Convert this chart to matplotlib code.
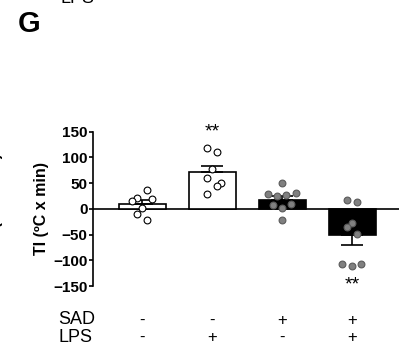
import numpy as np
import matplotlib
matplotlib.use("Agg")
import matplotlib.pyplot as plt
import matplotlib.transforms as mtransforms

plt.rcParams['font.family'] = ['Liberation Sans', 'DejaVu Sans']

# Gruppen: Kontrolle, LPS, SAD, SAD + LPS
sad_row = ['-', '-', '+', '+']
lps_row = ['-', '+', '-', '+']
means = [9.5, 71.5, 18, -51.6]
sems = [7.5, 12, 6.5, 18]
bar_colors = ['white', 'white', 'black', 'black']
dot_colors = ['white', 'white', '#808080', '#808080']
dot_edges = ['black', 'black', '#5a5a5a', '#5a5a5a']

# Einzelwerte pro Tier (TI in ºC x min)
vals_ctrl = [21, 37, 19, 15, 2, -21, -11]
vals_lps = [118, 110, 78, 60, 51, 44, 28]
vals_sad = [50, 28, 25, 26, 31, 8, 2, 10, -21]
vals_sad_lps = [18, 13.5, -27, -35, -48, -108, -112, -108]
points = [vals_ctrl, vals_lps, vals_sad, vals_sad_lps]

# seitliche Streuung der Punkte (in Balkenabständen)
jitter = [
    [-0.08, 0.06, 0.13, -0.15, -0.01, 0.06, -0.08],
    [-0.08, 0.07, 0.0, -0.07, 0.12, 0.06, -0.07],
    [0.0, -0.21, -0.08, 0.06, 0.2, -0.13, 0.0, 0.13, 0.0],
    [-0.07, 0.07, 0.0, -0.07, 0.07, -0.14, 0.0, 0.13],
]
signif = {1: '**', 3: '**'}

fig = plt.figure(figsize=(4.08, 3.52), dpi=100)
ax = fig.add_axes([0.228, 0.1875, 0.75, 0.4384])

x = np.arange(len(means))
ax.bar(x, means, width=0.67, color=bar_colors, edgecolor='black', linewidth=1.2, zorder=2)

for i in range(len(means)):
    if means[i] >= 0:
        err = [[0], [sems[i]]]
    else:
        err = [[sems[i]], [0]]
    ax.errorbar(x[i], means[i], yerr=err, fmt='none', ecolor='black',
                elinewidth=1.2, capsize=8, capthick=1.2, zorder=3)
    xs = x[i] + np.array(jitter[i])
    ax.scatter(xs, points[i], s=24, facecolor=dot_colors[i], edgecolor=dot_edges[i],
               linewidth=0.8, zorder=4)

for i, s in signif.items():
    if means[i] >= 0:
        ax.text(x[i], 132, s, ha='center', va='bottom', fontsize=14)
    else:
        ax.text(x[i], -132, s, ha='center', va='top', fontsize=14)

ax.axhline(0, color='black', linewidth=1.2, zorder=1)
ax.set_xlim(-0.707, 3.67)
ax.set_ylim(-150, 150)
ax.set_yticks(np.arange(-150, 151, 50))
ax.spines['left'].set_bounds(-150, 150)
ax.spines['left'].set_linewidth(1.2)
for side in ['top', 'right', 'bottom']:
    ax.spines[side].set_visible(False)
ax.set_xticks([])
ax.tick_params(axis='y', direction='out', length=3, width=1.2, pad=1, labelsize=11)
for lab in ax.get_yticklabels():
    lab.set_fontweight('bold')
ax.set_ylabel('TI (ºC x min)', fontsize=11.5, fontweight='bold', labelpad=3)

# Tabelle der Behandlungen unter den Balken
trans = mtransforms.blended_transform_factory(ax.transData, fig.transFigure)
fig.text(58 / 408, 1 - 320 / 352, 'SAD', fontsize=13, va='center', ha='left')
fig.text(58 / 408, 1 - 337.5 / 352, 'LPS', fontsize=13, va='center', ha='left')
for i in range(len(means)):
    ax.text(x[i], 1 - 320 / 352, sad_row[i], transform=trans, fontsize=12, ha='center', va='center')
    ax.text(x[i], 1 - 337.5 / 352, lps_row[i], transform=trans, fontsize=12, ha='center', va='center')

# Panelbuchstabe und Reste der Nachbarpanels
fig.text(18 / 408, 1 - 31.5 / 352, 'G', fontsize=21, fontweight='bold', va='baseline', ha='left')
fig.text(60 / 408, 1 - 3 / 352, 'LPS', fontsize=13, va='baseline', ha='left')
fig.text(-4 / 408, 1 - 199 / 352, 'TI (ºC x min)', fontsize=11.5, fontweight='bold',
         rotation=90, va='center', ha='center')

fig.savefig('out.png', dpi=100)
